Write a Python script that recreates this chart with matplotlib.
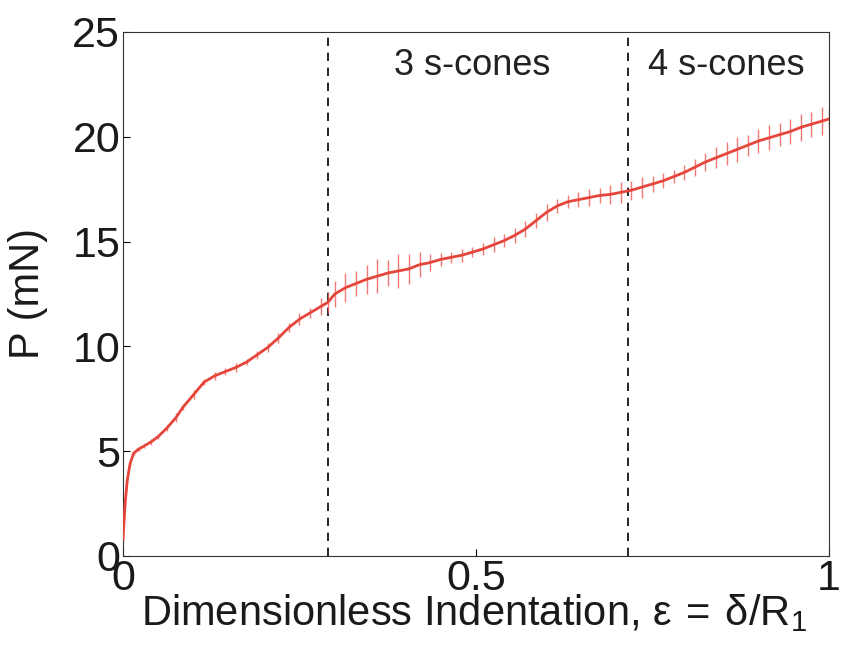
import numpy as np
import matplotlib
matplotlib.use("Agg")
import matplotlib.pyplot as plt

plt.rcParams['font.family'] = ['Liberation Sans', 'DejaVu Sans']
plt.rcParams['mathtext.fontset'] = 'custom'
plt.rcParams['mathtext.rm'] = 'Liberation Sans'

# ---- data ----
indentation = [0.000, 0.003, 0.006, 0.010, 0.015, 0.022, 0.030, 0.040, 0.050, 0.062,
               0.075, 0.085, 0.100, 0.115, 0.130, 0.145, 0.160, 0.175, 0.190, 0.205,
               0.220, 0.235, 0.250, 0.265, 0.280, 0.290, 0.300, 0.315, 0.330, 0.345,
               0.360, 0.375, 0.390, 0.405, 0.420, 0.435, 0.450, 0.465, 0.480, 0.495,
               0.510, 0.525, 0.540, 0.555, 0.570, 0.585, 0.600, 0.615, 0.630, 0.645,
               0.660, 0.675, 0.690, 0.705, 0.720, 0.735, 0.750, 0.765, 0.780, 0.795,
               0.810, 0.825, 0.840, 0.855, 0.870, 0.885, 0.900, 0.915, 0.930, 0.945,
               0.960, 0.975, 0.990, 1.000]
load_mN = [0.8, 2.5, 3.6, 4.4, 4.9, 5.1, 5.25, 5.45, 5.7, 6.1,
           6.6, 7.1, 7.7, 8.3, 8.6, 8.8, 9.0, 9.25, 9.6, 9.95,
           10.4, 10.9, 11.3, 11.6, 11.9, 12.1, 12.5, 12.8, 13.0, 13.2,
           13.35, 13.5, 13.6, 13.7, 13.9, 14.0, 14.15, 14.25, 14.35, 14.5,
           14.65, 14.85, 15.05, 15.3, 15.6, 16.0, 16.4, 16.7, 16.9, 17.0,
           17.1, 17.2, 17.25, 17.35, 17.45, 17.6, 17.75, 17.9, 18.1, 18.3,
           18.55, 18.8, 19.0, 19.2, 19.4, 19.6, 19.8, 19.95, 20.1, 20.25,
           20.45, 20.6, 20.75, 20.85]
load_err = [0.1, 0.1, 0.1, 0.1, 0.1, 0.1, 0.1, 0.15, 0.1, 0.15,
            0.2, 0.15, 0.2, 0.15, 0.2, 0.15, 0.2, 0.15, 0.2, 0.2,
            0.25, 0.2, 0.3, 0.25, 0.4, 0.5, 0.6, 0.7, 0.6, 0.7,
            0.8, 0.6, 0.8, 0.7, 0.6, 0.4, 0.3, 0.25, 0.3, 0.25,
            0.3, 0.35, 0.3, 0.35, 0.4, 0.35, 0.4, 0.35, 0.3, 0.35,
            0.4, 0.35, 0.45, 0.5, 0.45, 0.5, 0.4, 0.35, 0.3, 0.35,
            0.4, 0.45, 0.5, 0.55, 0.6, 0.5, 0.55, 0.6, 0.55, 0.6,
            0.65, 0.6, 0.65, 0.5]

cone_limits = [0.29, 0.715]
cone_labels = ['3 s-cones', '4 s-cones']
cone_label_x = [0.494, 0.855]

# ---- figure ----
fig = plt.figure(figsize=(8.43, 6.49), dpi=100)
ax = fig.add_axes([0.1459, 0.1433, 0.8375, 0.8074])

ax.errorbar(indentation, load_mN, yerr=load_err, fmt='none',
            ecolor='#f0605a', elinewidth=1.0, capsize=0, alpha=0.85, zorder=2)
ax.plot(indentation, load_mN, color='#e5453a', lw=2.0, zorder=3)

for xv in cone_limits:
    ax.axvline(xv, color='black', lw=1.2, ls=(0, (5, 4)), zorder=1)
for xt, lab in zip(cone_label_x, cone_labels):
    ax.text(xt, 23.4, lab, ha='center', va='center', fontsize=26, color='#222222')

ax.set_xlim(0, 1)
ax.set_ylim(0, 25)
ax.set_xticks([0, 0.5, 1])
ax.set_xticklabels(['0', '0.5', '1'])
ax.set_yticks([0, 5, 10, 15, 20, 25])
ax.tick_params(direction='in', length=5, width=0.8, labelsize=31, pad=2,
               top=False, right=False, labelcolor='#1a1a1a')
for sp in ax.spines.values():
    sp.set_linewidth(0.8)
    sp.set_color('#333333')

ax.set_ylabel('P (mN)', fontsize=30, color='#1a1a1a')
ax.yaxis.set_label_coords(-0.106, 0.5)
ax.set_xlabel(r'Dimensionless Indentation, $\mathregular{\epsilon\,=\,\delta/R_1}$',
              fontsize=30, color='#1a1a1a')
ax.xaxis.set_label_coords(0.497, -0.069)

fig.savefig('out.png', dpi=100)
